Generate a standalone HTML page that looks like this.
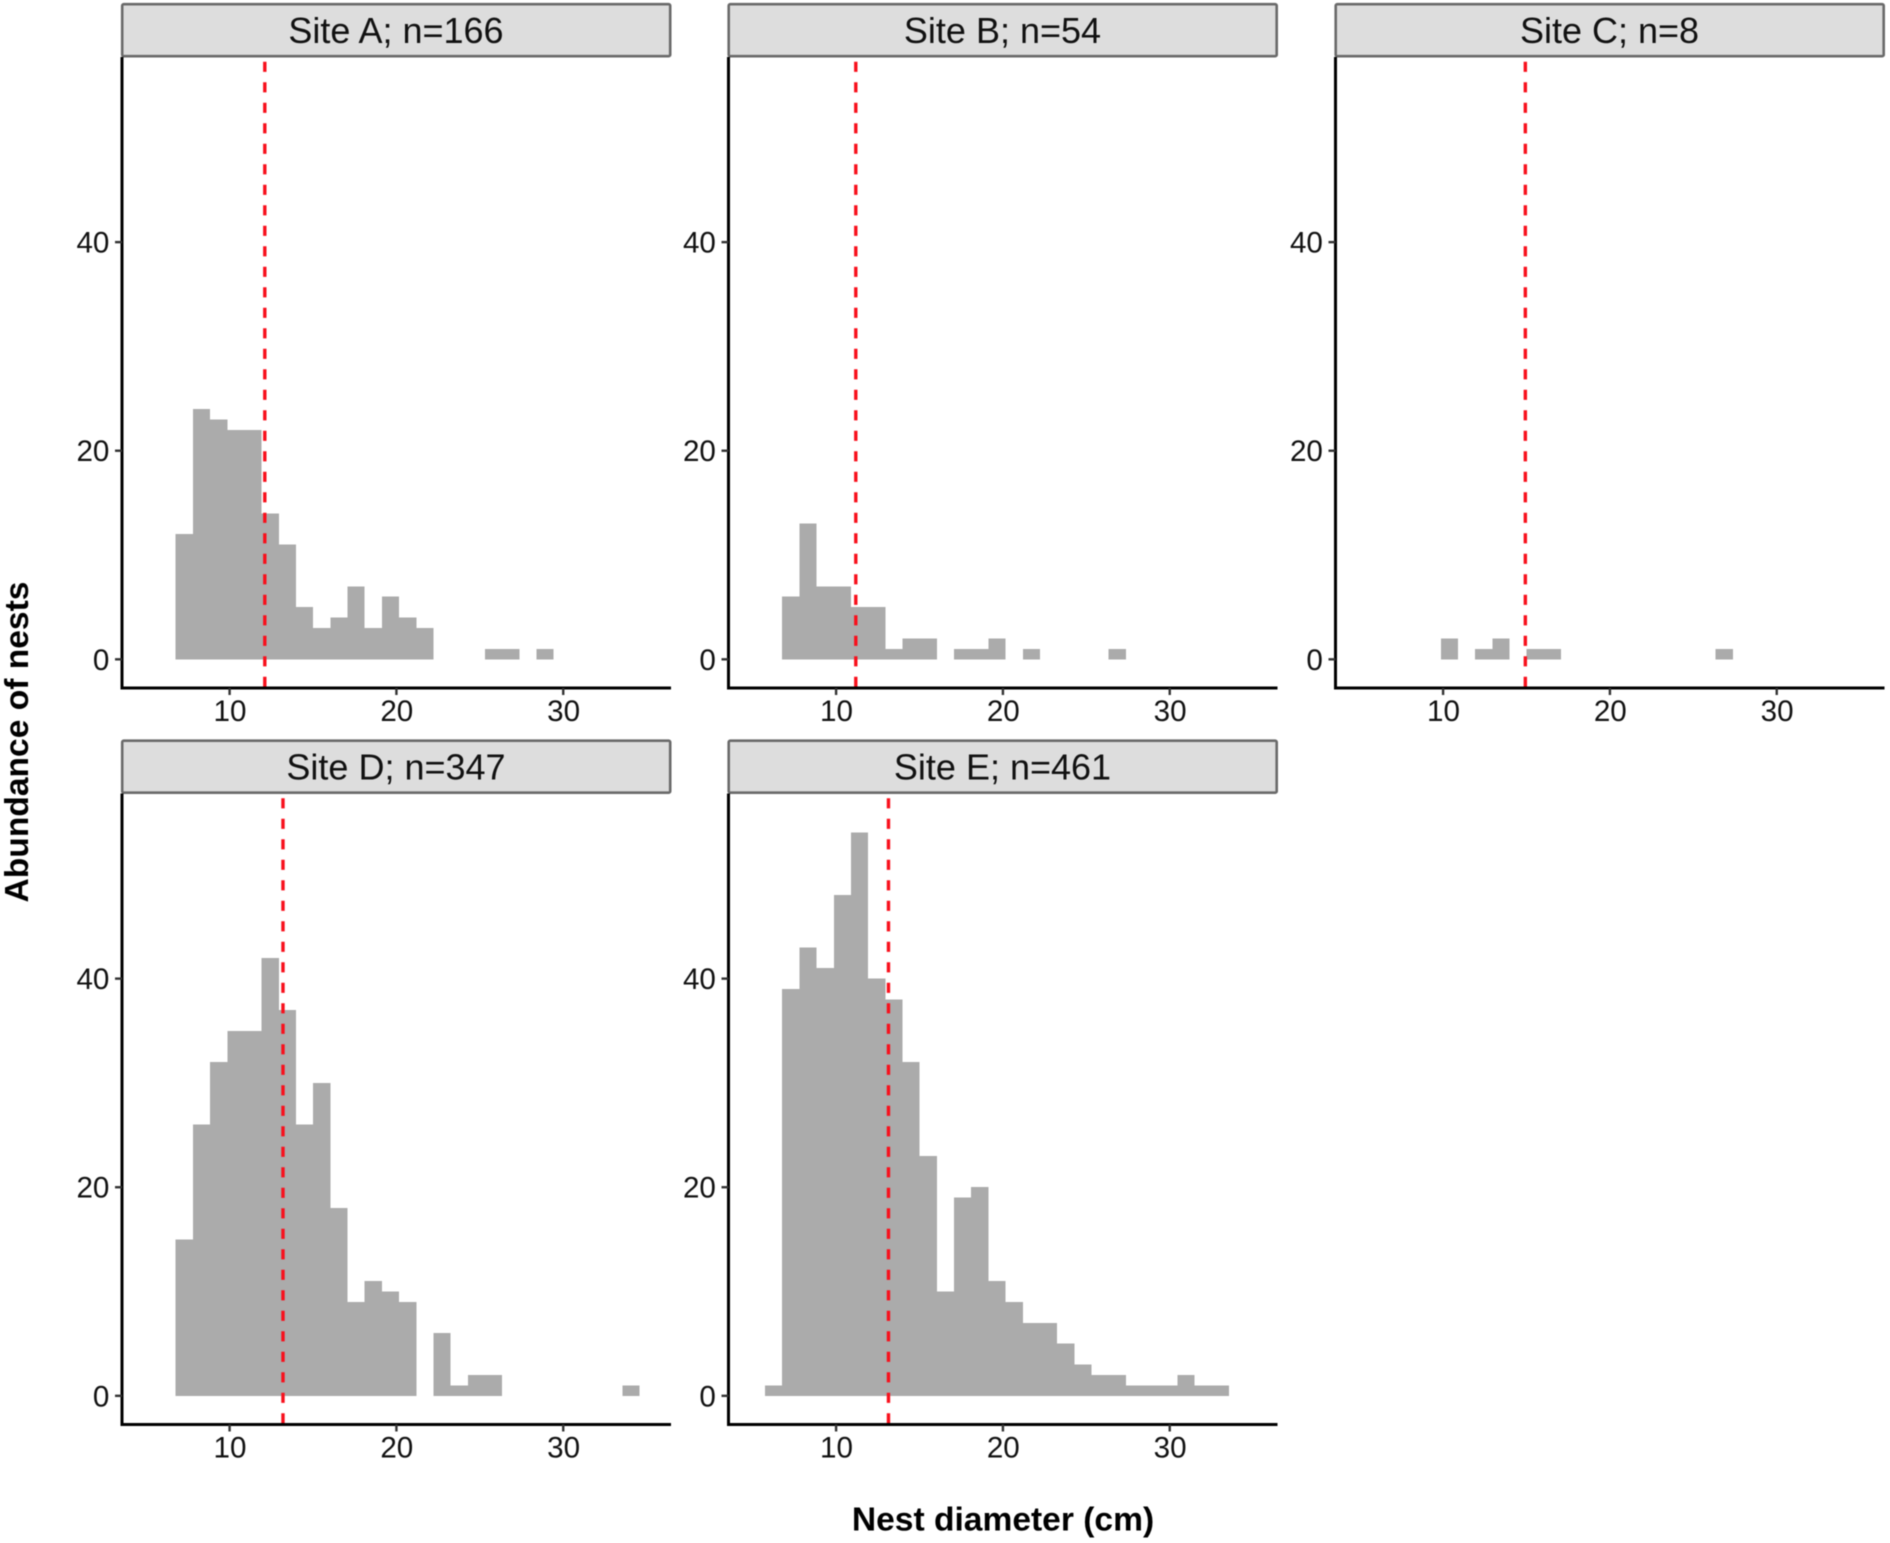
<!DOCTYPE html>
<html lang="en">
<head>
<meta charset="utf-8">
<title>Nest diameter histograms by site</title>
<style>
html,body{margin:0;padding:0;background:#fff;}
#chart{display:block;width:1890px;height:1543px;font-family:"Liberation Sans",Arial,sans-serif;filter:blur(0.45px);}
</style>
</head>
<body>
<svg id="chart" xmlns="http://www.w3.org/2000/svg" width="1890" height="1543" viewBox="0 0 1890 1543">
  <text x="28" y="742" transform="rotate(-90 28 742)" text-anchor="middle" font-size="33.6" font-weight="700" fill="#000">Abundance of nests</text>
  <text x="1003" y="1530.5" text-anchor="middle" font-size="33.6" font-weight="700" fill="#000">Nest diameter (cm)</text>
</svg>
<script>
// Chart data
const siteNames = ["Site A", "Site B", "Site C", "Site D", "Site E"];
const siteCounts = [166, 54, 8, 347, 461];
const binStart = 5.74;
const binWidth = 1.03;
const countsA = [0, 12, 24, 23, 22, 22, 14, 11, 5, 3, 4, 7, 3, 6, 4, 3, 0, 0, 0, 1, 1, 0, 1];
const countsB = [0, 6, 13, 7, 7, 5, 5, 1, 2, 2, 0, 1, 1, 2, 0, 1, 0, 0, 0, 0, 1];
const countsC = [0, 0, 0, 0, 2, 0, 1, 2, 0, 1, 1, 0, 0, 0, 0, 0, 0, 0, 0, 0, 1];
const countsD = [0, 15, 26, 32, 35, 35, 42, 37, 26, 30, 18, 9, 11, 10, 9, 0, 6, 1, 2, 2, 0, 0, 0, 0, 0, 0, 0, 1];
const countsE = [1, 39, 43, 41, 48, 54, 40, 38, 32, 23, 10, 19, 20, 11, 9, 7, 7, 5, 3, 2, 2, 1, 1, 1, 2, 1, 1];
const siteSeries = [countsA, countsB, countsC, countsD, countsE];
const meanDiameters = [12.11, 11.18, 14.93, 13.2, 13.14];
const xTicks = [10, 20, 30];
const yTicks = [0, 20, 40];
const xDomain = [3.55, 36.46];
const yDomain = [-2.75, 57.75];

// Layout
const panelWidth = 549;
const panelHeight = 631;
const panelLefts = [122, 728.5, 1335.5, 122, 728.5];
const panelTops = [57, 57, 57, 793.5, 793.5];
const stripHeight = 53;

const svg = document.getElementById('chart');
const NS = 'http://www.w3.org/2000/svg';

function make(tag, parent, attrs, text) {
  const node = document.createElementNS(NS, tag);
  for (const key in attrs) node.setAttribute(key, attrs[key]);
  if (text !== undefined) node.textContent = text;
  parent.appendChild(node);
  return node;
}
function xScale(i, v) {
  return panelLefts[i] + (v - xDomain[0]) / (xDomain[1] - xDomain[0]) * panelWidth;
}
function yScale(i, v) {
  return panelTops[i] + panelHeight - (v - yDomain[0]) / (yDomain[1] - yDomain[0]) * panelHeight;
}

siteNames.forEach(function (site, i) {
  const key = site.toLowerCase().replace(' ', '-');
  const left = panelLefts[i];
  const top = panelTops[i];
  const bottom = top + panelHeight;
  const right = left + panelWidth;

  const panel = make('g', svg, {});
  
  

  // Histogram bars
  siteSeries[i].forEach(function (count, b) {
    if (count <= 0) return;
    const x0 = xScale(i, binStart + b * binWidth);
    const x1 = xScale(i, binStart + (b + 1) * binWidth);
    const bar = make('rect', panel, {
      x: x0, y: yScale(i, count), width: x1 - x0,
      height: yScale(i, 0) - yScale(i, count),
      fill: '#ababab', 'shape-rendering': 'crispEdges'
    });
    
    
  });

  // Mean reference line
  const mx = xScale(i, meanDiameters[i]);
  const meanLine = make('line', panel, {
    x1: mx, x2: mx, y1: top + 4.7, y2: bottom,
    stroke: '#f8101c', 'stroke-width': 3.4, 'stroke-dasharray': '10.2 10.3'
  });
  
  

  // Strip header
  const strip = make('rect', panel, {
    x: left + 0.2, y: top - stripHeight + 0.2, width: panelWidth - 1, height: stripHeight - 1,
    rx: 1.5, fill: '#dddddd', stroke: '#6a6a6a', 'stroke-width': 2.6
  });
  
  

  const stripLabel = make('text', panel, {
    x: left + panelWidth / 2 - 0.5, y: top - stripHeight / 2 + 12.4,
    'text-anchor': 'middle', 'font-size': 36, fill: '#111'
  }, site + '; n=' + siteCounts[i]);
  
  

  // Axis lines
  const yAxis = make('line', panel, {
    x1: left, x2: left, y1: top, y2: bottom + 1.5, stroke: '#000', 'stroke-width': 3
  });
  
  

  const xAxis = make('line', panel, {
    x1: left, x2: right, y1: bottom, y2: bottom, stroke: '#000', 'stroke-width': 3
  });
  
  

  // Y ticks
  yTicks.forEach(function (tick) {
    const y = yScale(i, tick);
    const mark = make('line', panel, {
      x1: left - 7, x2: left, y1: y, y2: y, stroke: '#333', 'stroke-width': 2.4
    });
    
    

    const label = make('text', panel, {
      x: left - 12.6, y: y + 10.5, 'text-anchor': 'end', 'font-size': 29.6, fill: '#111'
    }, String(tick));
    
    
  });

  // X ticks
  xTicks.forEach(function (tick) {
    const x = xScale(i, tick);
    const mark = make('line', panel, {
      x1: x, x2: x, y1: bottom, y2: bottom + 7, stroke: '#333', 'stroke-width': 2.4
    });
    
    

    const label = make('text', panel, {
      x: x + 0.4, y: bottom + 33, 'text-anchor': 'middle', 'font-size': 29.6, fill: '#111'
    }, String(tick));
    
    
  });
});
</script>
</body>
</html>
